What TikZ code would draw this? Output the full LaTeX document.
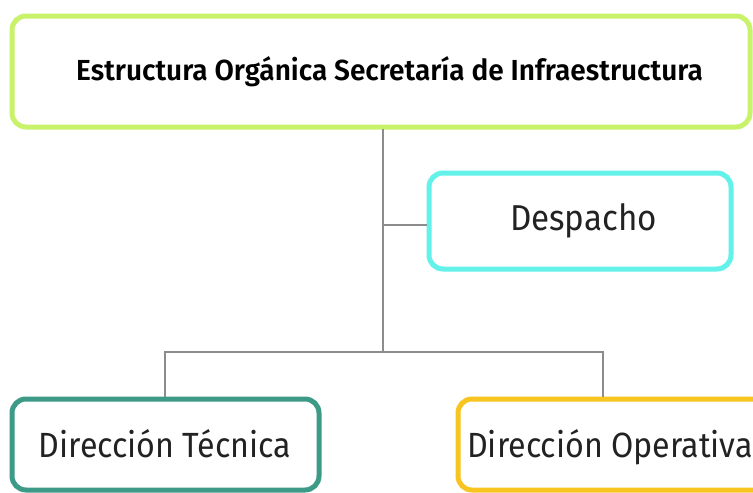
\documentclass[tikz,border=0pt]{standalone}
\usepackage{fontspec}
\setmainfont[FakeStretch=0.92]{Fira Sans}
\newfontfamily\titlefont[FakeStretch=0.967]{Fira Sans SemiBold}
\definecolor{limec}{HTML}{C8F26A}
\definecolor{cyanc}{HTML}{62F2EA}
\definecolor{tealc}{HTML}{3C9A86}
\definecolor{amberc}{HTML}{F8C420}
\definecolor{linec}{HTML}{8C8C8C}
\definecolor{textc}{HTML}{222222}
\begin{document}
\begin{tikzpicture}[x=1pt,y=-1pt,
  orgbox/.style={draw, line width=5pt, rounded corners=14pt, fill=white},
  lbl/.style={anchor=base, inner sep=0pt, text=textc, font=\fontsize{35}{40}\selectfont},
  conn/.style={draw=linec, line width=1.2pt}]
\useasboundingbox (0,0) rectangle (753,493);
\fill[white] (0,0) rectangle (753,493);
\begin{scope}
\clip (0,0) rectangle (753,493);
\draw[orgbox, draw=limec] (12,16) rectangle (750,127);
\node[lbl, font=\titlefont\fontsize{29}{34}\selectfont, text=black] (top) at (389.5,80) {Estructura Orgánica Secretaría de Infraestructura};
\coordinate (topb) at (383,128.5);
\draw[orgbox, draw=cyanc] (429,173) rectangle (731,269);
\node[lbl, font=\fontsize{36}{41}\selectfont] (desp) at (583.5,230) {Despacho};
\coordinate (despw) at (426.5,225);
\draw[orgbox, draw=tealc] (12,399) rectangle (319,490);
\node[lbl] (tec) at (165,457) {Dirección Técnica};
\coordinate (tect) at (165,396.5);
\draw[orgbox, draw=amberc] (458,399) rectangle (770,490);
\node[lbl] (ope) at (610,457) {Dirección Operativa};
\coordinate (opet) at (603,396.5);
\coordinate (j1) at (383,225);
\coordinate (j2) at (383,352);
\draw[conn] (topb) -- (j2);
\draw[conn] (j1) -- (despw);
\draw[conn] (tect) |- (j2) -| (opet);
\end{scope}
\end{tikzpicture}
\end{document}
